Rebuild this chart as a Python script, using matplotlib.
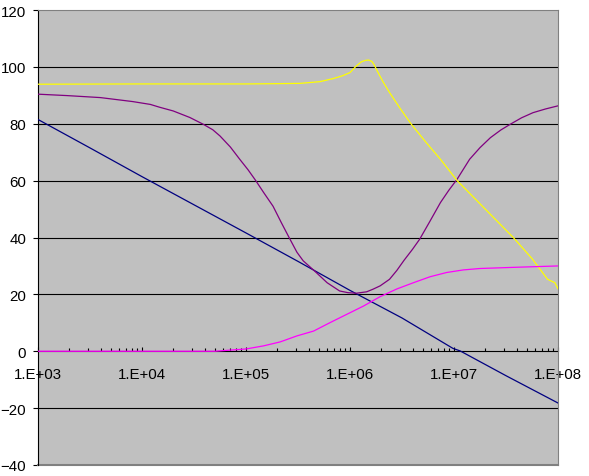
import numpy as np
import matplotlib.pyplot as plt
from matplotlib.ticker import LogLocator, FixedLocator, FuncFormatter

# values (x given as log10 of frequency)
blue_x = [3.0, 3.5, 4.0, 4.5, 5.0, 5.5, 6.0, 6.5, 6.99, 7.06, 7.5, 8.0]
blue_y = [81.5, 71.5, 61.4, 51.5, 41.6, 31.6, 21.4, 11.7, 1.0, 0.1, -8.6, -18.2]

purple_x = [3.0, 3.28, 3.6, 3.91, 4.08, 4.17, 4.3, 4.46, 4.59, 4.68, 4.75, 4.85, 4.94,
            5.02, 5.09, 5.17, 5.26, 5.34, 5.42, 5.49, 5.55, 5.66, 5.78, 5.9, 5.98,
            6.06, 6.16, 6.22, 6.29, 6.38, 6.45, 6.52, 6.6, 6.67, 6.77, 6.87, 6.95,
            7.03, 7.15, 7.25, 7.35, 7.45, 7.54, 7.65, 7.76, 7.88, 8.0]
purple_y = [90.4, 89.9, 89.2, 87.8, 86.8, 85.8, 84.5, 82.2, 79.8, 77.9, 75.7, 71.8, 67.5,
            63.8, 60.2, 55.8, 51.0, 45.2, 39.6, 34.8, 31.8, 28.2, 24.1, 21.2, 20.6,
            20.4, 20.9, 21.8, 23.0, 25.3, 28.4, 32.0, 35.8, 39.4, 45.8, 52.3, 56.6,
            60.5, 67.5, 71.6, 75.1, 77.8, 79.8, 82.1, 83.9, 85.2, 86.3]

yellow_x = [3.0, 4.0, 5.0, 5.3, 5.52, 5.71, 5.84, 5.93, 6.0, 6.06, 6.11, 6.15, 6.18,
            6.21, 6.23, 6.27, 6.32, 6.38, 6.48, 6.59, 6.73, 6.87, 7.03, 7.3, 7.57,
            7.75, 7.9, 7.97, 8.0]
yellow_y = [93.9, 94.0, 94.0, 94.1, 94.2, 94.8, 95.9, 96.9, 98.0, 100.3, 101.8, 102.3, 102.4,
            101.9, 100.9, 98.0, 94.6, 91.0, 85.5, 79.8, 73.5, 67.5, 60.0, 50.0, 40.0,
            32.6, 25.3, 24.1, 22.0]

magenta_x = [3.0, 4.0, 4.7, 4.85, 5.0, 5.17, 5.33, 5.49, 5.65, 5.81, 5.97, 6.13,
             6.29, 6.45, 6.61, 6.77, 6.93, 7.09, 7.25, 7.57, 8.0]
magenta_y = [0.0, 0.0, 0.0, 0.4, 0.8, 1.9, 3.3, 5.4, 7.1, 10.1, 13.0, 15.9,
             19.2, 21.9, 24.1, 26.2, 27.7, 28.6, 29.1, 29.5, 30.0]

fig = plt.figure(figsize=(5.89, 4.77), dpi=100)
plt.rcParams['font.family'] = ['Liberation Sans', 'DejaVu Sans']
ax = fig.add_axes([38/589, 11/477, 520/589, 455/477])
ax.set_facecolor('#C0C0C0')

for y in [-20, 20, 40, 60, 80, 100]:
    ax.axhline(y, color='black', lw=0.8, zorder=1)

ax.plot(10**np.array(blue_x), blue_y, color='#000080', lw=0.9, zorder=3)
ax.plot(10**np.array(purple_x), purple_y, color='#800080', lw=0.9, zorder=3)
ax.plot(10**np.array(yellow_x), yellow_y, color='#FFFF00', lw=0.9, zorder=3)
ax.plot(10**np.array(magenta_x), magenta_y, color='#FF00FF', lw=0.9, zorder=3)

ax.set_xscale('log')
ax.set_xlim(1e3, 1e8)
ax.set_ylim(-40, 120)

# plot-area border in gray, the category axis crosses at 0
for side in ['top', 'right']:
    ax.spines[side].set_color('#808080')
ax.spines['left'].set_color('black')
ax.spines['bottom'].set_position(('data', 0))
ax.spines['bottom'].set_color('black')
ax.spines['bottom'].set_zorder(2)
ax.axhline(-40, color='#808080', lw=1.5, clip_on=False)

ax.yaxis.set_major_locator(FixedLocator(range(-40, 121, 20)))
ax.tick_params(axis='y', direction='out', length=3.6, width=0.8, pad=5, labelsize=10.8)

ax.xaxis.set_major_locator(LogLocator(base=10, numticks=10))
ax.xaxis.set_minor_locator(LogLocator(base=10, subs=np.arange(2, 10), numticks=20))
ax.xaxis.set_major_formatter(FuncFormatter(lambda v, p: '1.E+%02d' % round(np.log10(v))))
ax.xaxis.set_minor_formatter(FuncFormatter(lambda v, p: ''))
ax.tick_params(axis='x', which='major', direction='in', length=3.2, width=0.8,
               pad=11, labelsize=10.8)
ax.tick_params(axis='x', which='minor', direction='in', length=2.2, width=0.8)

fig.savefig('out.png', dpi=100)
